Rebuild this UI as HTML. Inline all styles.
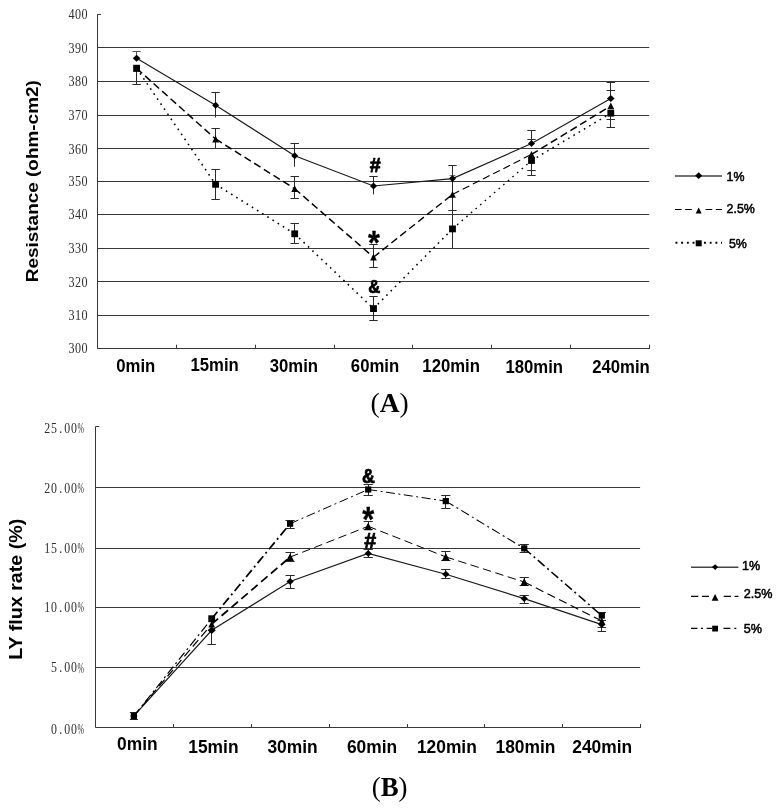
<!DOCTYPE html>
<html lang="en">
<head>
<meta charset="utf-8">
<title>Figure: Resistance and LY flux rate</title>
<style>
html,body{margin:0;padding:0;background:#fff;}
body{width:783px;height:812px;overflow:hidden;font-family:"Liberation Sans", sans-serif;}
svg{display:block;will-change:transform;}
</style>
</head>
<body>
<svg width="783" height="812" viewBox="0 0 783 812">
<rect width="783" height="812" fill="#fff"/>
<g id="chartA">
<line x1="97.6" y1="315.5" x2="649.2" y2="315.5" stroke="#383838" stroke-width="1" />
<line x1="97.6" y1="281.5" x2="649.2" y2="281.5" stroke="#383838" stroke-width="1" />
<line x1="97.6" y1="248.5" x2="649.2" y2="248.5" stroke="#383838" stroke-width="1" />
<line x1="97.6" y1="214.5" x2="649.2" y2="214.5" stroke="#383838" stroke-width="1" />
<line x1="97.6" y1="181.5" x2="649.2" y2="181.5" stroke="#383838" stroke-width="1" />
<line x1="97.6" y1="148.5" x2="649.2" y2="148.5" stroke="#383838" stroke-width="1" />
<line x1="97.6" y1="115.5" x2="649.2" y2="115.5" stroke="#383838" stroke-width="1" />
<line x1="97.6" y1="81.5" x2="649.2" y2="81.5" stroke="#383838" stroke-width="1" />
<line x1="97.6" y1="47.5" x2="649.2" y2="47.5" stroke="#383838" stroke-width="1" />
<line x1="97.5" y1="14.3" x2="97.5" y2="348.4" stroke="#383838" stroke-width="1" />
<line x1="97.1" y1="348.5" x2="650" y2="348.5" stroke="#383838" stroke-width="1" />
<line x1="97.6" y1="14.5" x2="101.1" y2="14.5" stroke="#383838" stroke-width="1" />
<line x1="176.5" y1="348.4" x2="176.5" y2="344.7" stroke="#383838" stroke-width="1" />
<line x1="255.5" y1="348.4" x2="255.5" y2="344.7" stroke="#383838" stroke-width="1" />
<line x1="334.5" y1="348.4" x2="334.5" y2="344.7" stroke="#383838" stroke-width="1" />
<line x1="412.5" y1="348.4" x2="412.5" y2="344.7" stroke="#383838" stroke-width="1" />
<line x1="491.5" y1="348.4" x2="491.5" y2="344.7" stroke="#383838" stroke-width="1" />
<line x1="570.5" y1="348.4" x2="570.5" y2="344.7" stroke="#383838" stroke-width="1" />
<line x1="649.5" y1="348.4" x2="649.5" y2="344.7" stroke="#383838" stroke-width="1" />
<text transform="scale(0.88 1)" x="81.19 88.58 95.97" y="353.5" font-family='"Liberation Serif", serif' font-size="13.8" text-anchor="middle" fill="#2e2e2e">300</text>
<text transform="scale(0.88 1)" x="81.19 88.58 95.97" y="320.5" font-family='"Liberation Serif", serif' font-size="13.8" text-anchor="middle" fill="#2e2e2e">310</text>
<text transform="scale(0.88 1)" x="81.19 88.58 95.97" y="286.9" font-family='"Liberation Serif", serif' font-size="13.8" text-anchor="middle" fill="#2e2e2e">320</text>
<text transform="scale(0.88 1)" x="81.19 88.58 95.97" y="253.3" font-family='"Liberation Serif", serif' font-size="13.8" text-anchor="middle" fill="#2e2e2e">330</text>
<text transform="scale(0.88 1)" x="81.19 88.58 95.97" y="219.4" font-family='"Liberation Serif", serif' font-size="13.8" text-anchor="middle" fill="#2e2e2e">340</text>
<text transform="scale(0.88 1)" x="81.19 88.58 95.97" y="186.4" font-family='"Liberation Serif", serif' font-size="13.8" text-anchor="middle" fill="#2e2e2e">350</text>
<text transform="scale(0.88 1)" x="81.19 88.58 95.97" y="153.8" font-family='"Liberation Serif", serif' font-size="13.8" text-anchor="middle" fill="#2e2e2e">360</text>
<text transform="scale(0.88 1)" x="81.19 88.58 95.97" y="120.2" font-family='"Liberation Serif", serif' font-size="13.8" text-anchor="middle" fill="#2e2e2e">370</text>
<text transform="scale(0.88 1)" x="81.19 88.58 95.97" y="86.5" font-family='"Liberation Serif", serif' font-size="13.8" text-anchor="middle" fill="#2e2e2e">380</text>
<text transform="scale(0.88 1)" x="81.19 88.58 95.97" y="52.7" font-family='"Liberation Serif", serif' font-size="13.8" text-anchor="middle" fill="#2e2e2e">390</text>
<text transform="scale(0.88 1)" x="81.19 88.58 95.97" y="19.4" font-family='"Liberation Serif", serif' font-size="13.8" text-anchor="middle" fill="#2e2e2e">400</text>
<text transform="translate(38.4 181.2) rotate(-90) scale(1 0.87)" font-family='"Liberation Sans", sans-serif' font-size="18.95" font-weight="bold" text-anchor="middle" fill="#000">Resistance (ohm-cm2)</text>
<line x1="136.5" y1="51.9" x2="136.5" y2="58" stroke="#555" stroke-width="1" />
<line x1="132.4" y1="51.5" x2="140.8" y2="51.5" stroke="#555" stroke-width="1" />
<line x1="136.5" y1="70" x2="136.5" y2="84.4" stroke="#2a2a2a" stroke-width="1" />
<line x1="132.4" y1="84.5" x2="140.8" y2="84.5" stroke="#2a2a2a" stroke-width="1" />
<line x1="215.5" y1="92.5" x2="215.5" y2="117.5" stroke="#2a2a2a" stroke-width="1" />
<line x1="211.4" y1="92.5" x2="219.8" y2="92.5" stroke="#2a2a2a" stroke-width="1" />
<line x1="215.5" y1="128.5" x2="215.5" y2="148.8" stroke="#2a2a2a" stroke-width="1" />
<line x1="211.4" y1="128.5" x2="219.8" y2="128.5" stroke="#2a2a2a" stroke-width="1" />
<line x1="215.5" y1="169.4" x2="215.5" y2="199.6" stroke="#2a2a2a" stroke-width="1" />
<line x1="211.4" y1="169.5" x2="219.8" y2="169.5" stroke="#2a2a2a" stroke-width="1" />
<line x1="211.4" y1="199.5" x2="219.8" y2="199.5" stroke="#2a2a2a" stroke-width="1" />
<line x1="294.5" y1="143.8" x2="294.5" y2="166.8" stroke="#2a2a2a" stroke-width="1" />
<line x1="290.5" y1="143.5" x2="298.9" y2="143.5" stroke="#2a2a2a" stroke-width="1" />
<line x1="294.5" y1="176.4" x2="294.5" y2="198.7" stroke="#2a2a2a" stroke-width="1" />
<line x1="290.5" y1="176.5" x2="298.9" y2="176.5" stroke="#2a2a2a" stroke-width="1" />
<line x1="290.5" y1="198.5" x2="298.9" y2="198.5" stroke="#2a2a2a" stroke-width="1" />
<line x1="294.5" y1="223.5" x2="294.5" y2="243.9" stroke="#2a2a2a" stroke-width="1" />
<line x1="290.5" y1="223.5" x2="298.9" y2="223.5" stroke="#2a2a2a" stroke-width="1" />
<line x1="290.5" y1="243.5" x2="298.9" y2="243.5" stroke="#2a2a2a" stroke-width="1" />
<line x1="373.5" y1="176.5" x2="373.5" y2="194.4" stroke="#2a2a2a" stroke-width="1" />
<line x1="369.3" y1="176.5" x2="377.7" y2="176.5" stroke="#2a2a2a" stroke-width="1" />
<line x1="373.5" y1="244.5" x2="373.5" y2="267.8" stroke="#2a2a2a" stroke-width="1" />
<line x1="369.3" y1="244.5" x2="377.7" y2="244.5" stroke="#2a2a2a" stroke-width="1" />
<line x1="369.3" y1="267.5" x2="377.7" y2="267.5" stroke="#2a2a2a" stroke-width="1" />
<line x1="373.5" y1="296.2" x2="373.5" y2="320.4" stroke="#2a2a2a" stroke-width="1" />
<line x1="369.3" y1="296.5" x2="377.7" y2="296.5" stroke="#2a2a2a" stroke-width="1" />
<line x1="369.3" y1="320.5" x2="377.7" y2="320.5" stroke="#2a2a2a" stroke-width="1" />
<line x1="452.5" y1="165.3" x2="452.5" y2="248" stroke="#2a2a2a" stroke-width="1" />
<line x1="448.3" y1="165.5" x2="456.7" y2="165.5" stroke="#2a2a2a" stroke-width="1" />
<line x1="448.3" y1="210.5" x2="456.7" y2="210.5" stroke="#2a2a2a" stroke-width="1" />
<line x1="449.5" y1="175.5" x2="455.5" y2="175.5" stroke="#777" stroke-width="1" />
<line x1="531.5" y1="130" x2="531.5" y2="142" stroke="#2a2a2a" stroke-width="1" />
<line x1="527.3" y1="130.5" x2="535.7" y2="130.5" stroke="#2a2a2a" stroke-width="1" />
<line x1="527.3" y1="139.5" x2="535.7" y2="139.5" stroke="#2a2a2a" stroke-width="1" />
<line x1="531.5" y1="163" x2="531.5" y2="175.6" stroke="#2a2a2a" stroke-width="1" />
<line x1="527.3" y1="170.5" x2="535.7" y2="170.5" stroke="#2a2a2a" stroke-width="1" />
<line x1="527.3" y1="175.5" x2="535.7" y2="175.5" stroke="#2a2a2a" stroke-width="1" />
<line x1="610.5" y1="82" x2="610.5" y2="96" stroke="#2a2a2a" stroke-width="1" />
<line x1="606.6" y1="82.5" x2="615" y2="82.5" stroke="#2a2a2a" stroke-width="1" />
<line x1="606.6" y1="90.5" x2="615" y2="90.5" stroke="#2a2a2a" stroke-width="1" />
<line x1="610.5" y1="116" x2="610.5" y2="127.4" stroke="#2a2a2a" stroke-width="1" />
<line x1="606.6" y1="119.5" x2="615" y2="119.5" stroke="#2a2a2a" stroke-width="1" />
<line x1="606.6" y1="127.5" x2="615" y2="127.5" stroke="#2a2a2a" stroke-width="1" />
<polyline points="136.6,58.3 215.6,105.2 294.7,155.7 373.5,186 452.5,178.6 531.5,143.5 610.8,98.4" fill="none" stroke="#1a1a1a" stroke-width="1.15" />
<line x1="136.6" y1="68.3" x2="215.6" y2="139" stroke="#000" stroke-width="1.5" stroke-dasharray="7.4 4"/>
<line x1="215.6" y1="139" x2="294.7" y2="188.7" stroke="#000" stroke-width="1.5" stroke-dasharray="7.4 4"/>
<line x1="294.7" y1="188.7" x2="373.5" y2="257.2" stroke="#000" stroke-width="1.5" stroke-dasharray="7.4 4"/>
<line x1="373.5" y1="257.2" x2="452.5" y2="194.4" stroke="#000" stroke-width="1.4" stroke-dasharray="7.4 4"/>
<line x1="452.5" y1="194.4" x2="531.5" y2="154.4" stroke="#000" stroke-width="1.1" stroke-dasharray="7.4 4"/>
<line x1="531.5" y1="154.4" x2="610.8" y2="105.9" stroke="#000" stroke-width="1.5" stroke-dasharray="7.4 4"/>
<line x1="136.6" y1="68.2" x2="215.6" y2="184.3" stroke="#000" stroke-width="1.6" stroke-dasharray="1.6 4.5"/>
<line x1="215.6" y1="184.3" x2="294.7" y2="233.8" stroke="#000" stroke-width="1.6" stroke-dasharray="1.6 4.5"/>
<line x1="294.7" y1="233.8" x2="373.5" y2="308.6" stroke="#000" stroke-width="1.6" stroke-dasharray="1.6 4.5"/>
<line x1="373.5" y1="308.6" x2="452.5" y2="228.9" stroke="#000" stroke-width="1.6" stroke-dasharray="1.6 4.5"/>
<line x1="452.5" y1="228.9" x2="531.5" y2="160.5" stroke="#000" stroke-width="1.35" stroke-dasharray="1.6 4.5"/>
<line x1="531.5" y1="160.5" x2="610.8" y2="113.2" stroke="#000" stroke-width="1.5" stroke-dasharray="1.6 4.5"/>
<path d="M136.6 54.8L140.45 58.3L136.6 61.8L132.75 58.3Z" fill="#000"/>
<path d="M215.6 101.7L219.1 105.2L215.6 108.7L212.1 105.2Z" fill="#000"/>
<path d="M294.7 152.2L298.2 155.7L294.7 159.2L291.2 155.7Z" fill="#000"/>
<path d="M373.5 182.5L377 186L373.5 189.5L370 186Z" fill="#000"/>
<path d="M452.5 175.1L456 178.6L452.5 182.1L449 178.6Z" fill="#000"/>
<path d="M531.5 140L535 143.5L531.5 147L528 143.5Z" fill="#000"/>
<path d="M610.8 94.9L614.65 98.4L610.8 101.9L606.95 98.4Z" fill="#000"/>
<path d="M136.6 64.9L140 71.7L133.2 71.7Z" fill="#000"/>
<path d="M215.6 135.6L219 142.4L212.2 142.4Z" fill="#000"/>
<path d="M294.7 185.3L298.1 192.1L291.3 192.1Z" fill="#000"/>
<path d="M373.5 253.8L376.9 260.6L370.1 260.6Z" fill="#000"/>
<path d="M452.5 191L455.9 197.8L449.1 197.8Z" fill="#000"/>
<path d="M531.5 151L534.9 157.8L528.1 157.8Z" fill="#000"/>
<path d="M610.8 102.5L614.2 109.3L607.4 109.3Z" fill="#000"/>
<rect class="m" x="133.2" y="64.8" width="6.8" height="6.8" fill="#000"/>
<rect class="m" x="212.2" y="180.9" width="6.8" height="6.8" fill="#000"/>
<rect class="m" x="291.3" y="230.4" width="6.8" height="6.8" fill="#000"/>
<rect class="m" x="370.1" y="305.2" width="6.8" height="6.8" fill="#000"/>
<rect class="m" x="449.1" y="225.5" width="6.8" height="6.8" fill="#000"/>
<rect class="m" x="528.1" y="157.1" width="6.8" height="6.8" fill="#000"/>
<rect class="m" x="607.4" y="109.8" width="6.8" height="6.8" fill="#000"/>
<text x="375.2" y="172.4" font-family='"Liberation Sans", sans-serif' font-size="19.8" font-weight="bold" text-anchor="middle" fill="#000" stroke="#000" stroke-width="0.75" stroke-linejoin="round">#</text>
<text transform="translate(374 254.1) scale(0.9 1)" font-family='"Liberation Sans", sans-serif' font-size="34" font-weight="bold" text-anchor="middle" fill="#000" stroke="#000" stroke-width="0.3" stroke-linejoin="round">*</text>
<text transform="translate(374.3 293.1) scale(0.9 1)" font-family='"Liberation Sans", sans-serif' font-size="18.5" font-weight="bold" text-anchor="middle" fill="#000" stroke="#000" stroke-width="0.75" stroke-linejoin="round">&amp;</text>
<text transform="translate(135.75 372.4) scale(0.885 1)" font-family='"Liberation Sans", sans-serif' font-size="18.9" font-weight="bold" text-anchor="middle" fill="#000" >0min</text>
<text transform="translate(214.65 370.7) scale(0.885 1)" font-family='"Liberation Sans", sans-serif' font-size="18.9" font-weight="bold" text-anchor="middle" fill="#000" >15min</text>
<text transform="translate(293.85 372) scale(0.885 1)" font-family='"Liberation Sans", sans-serif' font-size="18.9" font-weight="bold" text-anchor="middle" fill="#000" >30min</text>
<text transform="translate(375 372) scale(0.885 1)" font-family='"Liberation Sans", sans-serif' font-size="18.9" font-weight="bold" text-anchor="middle" fill="#000" >60min</text>
<text transform="translate(451.15 371.6) scale(0.885 1)" font-family='"Liberation Sans", sans-serif' font-size="18.9" font-weight="bold" text-anchor="middle" fill="#000" >120min</text>
<text transform="translate(534.2 373.3) scale(0.885 1)" font-family='"Liberation Sans", sans-serif' font-size="18.9" font-weight="bold" text-anchor="middle" fill="#000" >180min</text>
<text transform="translate(620.95 373.3) scale(0.885 1)" font-family='"Liberation Sans", sans-serif' font-size="18.9" font-weight="bold" text-anchor="middle" fill="#000" >240min</text>
<line x1="675" y1="175.9" x2="722" y2="175.9" stroke="#444" stroke-width="1.5" />
<path d="M698.7 172.3L702.37 175.7L698.7 179.1L695.03 175.7Z" fill="#000"/>
<text x="726.6" y="180.7" font-family='"Liberation Sans", sans-serif' font-size="12.4" font-weight="normal" text-anchor="start" fill="#000" stroke="#000" stroke-width="0.5">1%</text>
<line x1="675" y1="209.5" x2="722" y2="209.5" stroke="#000" stroke-width="1.2" stroke-dasharray="6.6 3.6"/>
<rect class="m" x="692.5" y="205" width="12.5" height="9" fill="#fff"/>
<path d="M698.7 207.6L701.7 213.6L695.7 213.6Z" fill="#000"/>
<text x="726.6" y="212.8" font-family='"Liberation Sans", sans-serif' font-size="12.4" font-weight="normal" text-anchor="start" fill="#000" stroke="#000" stroke-width="0.5">2.5%</text>
<line x1="675.5" y1="242.8" x2="722" y2="242.8" stroke="#000" stroke-width="1.9" stroke-dasharray="1.9 3.8"/>
<rect class="m" x="695.7" y="240.3" width="6" height="6" fill="#000"/>
<text x="728.9" y="247.6" font-family='"Liberation Sans", sans-serif' font-size="12.4" font-weight="normal" text-anchor="start" fill="#000" stroke="#000" stroke-width="0.5">5%</text>
</g>
<text x="389.6" y="411.6" font-family='"Liberation Serif", serif' font-size="27.5" text-anchor="middle" fill="#000">(<tspan font-weight="bold">A</tspan>)</text>
<g id="chartB">
<line x1="95.9" y1="667.5" x2="640.1" y2="667.5" stroke="#383838" stroke-width="1" />
<line x1="95.9" y1="607.5" x2="640.1" y2="607.5" stroke="#383838" stroke-width="1" />
<line x1="95.9" y1="548.5" x2="640.1" y2="548.5" stroke="#383838" stroke-width="1" />
<line x1="95.9" y1="487.5" x2="640.1" y2="487.5" stroke="#383838" stroke-width="1" />
<line x1="95.5" y1="426.3" x2="95.5" y2="727.4" stroke="#383838" stroke-width="1" />
<line x1="95.4" y1="727.5" x2="641" y2="727.5" stroke="#383838" stroke-width="1" />
<line x1="95.9" y1="426.5" x2="99.2" y2="426.5" stroke="#383838" stroke-width="1" />
<line x1="173.5" y1="727.4" x2="173.5" y2="724.1" stroke="#383838" stroke-width="1" />
<line x1="251.5" y1="727.4" x2="251.5" y2="724.1" stroke="#383838" stroke-width="1" />
<line x1="329.5" y1="727.4" x2="329.5" y2="724.1" stroke="#383838" stroke-width="1" />
<line x1="407.5" y1="727.4" x2="407.5" y2="724.1" stroke="#383838" stroke-width="1" />
<line x1="484.5" y1="727.4" x2="484.5" y2="724.1" stroke="#383838" stroke-width="1" />
<line x1="562.5" y1="727.4" x2="562.5" y2="724.1" stroke="#383838" stroke-width="1" />
<line x1="640.5" y1="727.4" x2="640.5" y2="724.1" stroke="#383838" stroke-width="1" />
<text transform="scale(0.86 1)" x="54.95 62.72 70.49 78.26 86.02" y="432.6" font-family='"Liberation Serif", serif' font-size="13.8" text-anchor="middle" fill="#2e2e2e">25.00</text>
<text transform="translate(80.66 432.6) scale(0.56 1)" font-family='"Liberation Serif", serif' font-size="13.8" text-anchor="middle" fill="#2e2e2e">%</text>
<text transform="scale(0.86 1)" x="54.95 62.72 70.49 78.26 86.02" y="492.6" font-family='"Liberation Serif", serif' font-size="13.8" text-anchor="middle" fill="#2e2e2e">20.00</text>
<text transform="translate(80.66 492.6) scale(0.56 1)" font-family='"Liberation Serif", serif' font-size="13.8" text-anchor="middle" fill="#2e2e2e">%</text>
<text transform="scale(0.86 1)" x="54.95 62.72 70.49 78.26 86.02" y="553" font-family='"Liberation Serif", serif' font-size="13.8" text-anchor="middle" fill="#2e2e2e">15.00</text>
<text transform="translate(80.66 553) scale(0.56 1)" font-family='"Liberation Serif", serif' font-size="13.8" text-anchor="middle" fill="#2e2e2e">%</text>
<text transform="scale(0.86 1)" x="54.95 62.72 70.49 78.26 86.02" y="612.4" font-family='"Liberation Serif", serif' font-size="13.8" text-anchor="middle" fill="#2e2e2e">10.00</text>
<text transform="translate(80.66 612.4) scale(0.56 1)" font-family='"Liberation Serif", serif' font-size="13.8" text-anchor="middle" fill="#2e2e2e">%</text>
<text transform="scale(0.86 1)" x="62.72 70.49 78.26 86.02" y="672.5" font-family='"Liberation Serif", serif' font-size="13.8" text-anchor="middle" fill="#2e2e2e">5.00</text>
<text transform="translate(80.66 672.5) scale(0.56 1)" font-family='"Liberation Serif", serif' font-size="13.8" text-anchor="middle" fill="#2e2e2e">%</text>
<text transform="scale(0.86 1)" x="62.72 70.49 78.26 86.02" y="734" font-family='"Liberation Serif", serif' font-size="13.8" text-anchor="middle" fill="#2e2e2e">0.00</text>
<text transform="translate(80.66 734) scale(0.56 1)" font-family='"Liberation Serif", serif' font-size="13.8" text-anchor="middle" fill="#2e2e2e">%</text>
<text transform="translate(22.4 589.2) rotate(-90) scale(1 0.9)" font-family='"Liberation Sans", sans-serif' font-size="19.7" font-weight="bold" text-anchor="middle" fill="#000">LY flux rate (%)</text>
<line x1="133.5" y1="712.8" x2="133.5" y2="719.3" stroke="#2a2a2a" stroke-width="1" />
<line x1="129.9" y1="712.5" x2="137.9" y2="712.5" stroke="#2a2a2a" stroke-width="1" />
<line x1="129.9" y1="719.5" x2="137.9" y2="719.5" stroke="#2a2a2a" stroke-width="1" />
<line x1="211.5" y1="616" x2="211.5" y2="644.4" stroke="#2a2a2a" stroke-width="1" />
<line x1="207.5" y1="644.5" x2="215.9" y2="644.5" stroke="#2a2a2a" stroke-width="1" />
<line x1="290.5" y1="520.3" x2="290.5" y2="528.3" stroke="#2a2a2a" stroke-width="1" />
<line x1="285.5" y1="520.5" x2="294.7" y2="520.5" stroke="#2a2a2a" stroke-width="1" />
<line x1="285.5" y1="528.5" x2="294.7" y2="528.5" stroke="#2a2a2a" stroke-width="1" />
<line x1="290.5" y1="552" x2="290.5" y2="561.2" stroke="#2a2a2a" stroke-width="1" />
<line x1="285.5" y1="552.5" x2="294.7" y2="552.5" stroke="#2a2a2a" stroke-width="1" />
<line x1="285.5" y1="561.5" x2="294.7" y2="561.5" stroke="#2a2a2a" stroke-width="1" />
<line x1="290.5" y1="575.5" x2="290.5" y2="588.4" stroke="#2a2a2a" stroke-width="1" />
<line x1="285.5" y1="575.5" x2="294.7" y2="575.5" stroke="#2a2a2a" stroke-width="1" />
<line x1="285.5" y1="588.5" x2="294.7" y2="588.5" stroke="#2a2a2a" stroke-width="1" />
<line x1="368.5" y1="484.9" x2="368.5" y2="495.2" stroke="#2a2a2a" stroke-width="1" />
<line x1="363.6" y1="484.5" x2="372.8" y2="484.5" stroke="#2a2a2a" stroke-width="1" />
<line x1="363.6" y1="495.5" x2="372.8" y2="495.5" stroke="#2a2a2a" stroke-width="1" />
<line x1="368.5" y1="521.3" x2="368.5" y2="529.7" stroke="#2a2a2a" stroke-width="1" />
<line x1="363.6" y1="521.5" x2="372.8" y2="521.5" stroke="#2a2a2a" stroke-width="1" />
<line x1="363.6" y1="529.5" x2="372.8" y2="529.5" stroke="#2a2a2a" stroke-width="1" />
<line x1="368.5" y1="549.6" x2="368.5" y2="557.3" stroke="#2a2a2a" stroke-width="1" />
<line x1="363.6" y1="549.5" x2="372.8" y2="549.5" stroke="#2a2a2a" stroke-width="1" />
<line x1="363.6" y1="557.5" x2="372.8" y2="557.5" stroke="#2a2a2a" stroke-width="1" />
<line x1="445.5" y1="495.6" x2="445.5" y2="508.3" stroke="#2a2a2a" stroke-width="1" />
<line x1="441.2" y1="495.5" x2="450.4" y2="495.5" stroke="#2a2a2a" stroke-width="1" />
<line x1="441.2" y1="508.5" x2="450.4" y2="508.5" stroke="#2a2a2a" stroke-width="1" />
<line x1="445.5" y1="551.5" x2="445.5" y2="560.8" stroke="#2a2a2a" stroke-width="1" />
<line x1="441.2" y1="551.5" x2="450.4" y2="551.5" stroke="#2a2a2a" stroke-width="1" />
<line x1="441.2" y1="560.5" x2="450.4" y2="560.5" stroke="#2a2a2a" stroke-width="1" />
<line x1="445.5" y1="569.6" x2="445.5" y2="578.8" stroke="#2a2a2a" stroke-width="1" />
<line x1="441.2" y1="569.5" x2="450.4" y2="569.5" stroke="#2a2a2a" stroke-width="1" />
<line x1="441.2" y1="578.5" x2="450.4" y2="578.5" stroke="#2a2a2a" stroke-width="1" />
<line x1="524.5" y1="544.5" x2="524.5" y2="552.6" stroke="#2a2a2a" stroke-width="1" />
<line x1="519.6" y1="544.5" x2="528.8" y2="544.5" stroke="#2a2a2a" stroke-width="1" />
<line x1="519.6" y1="552.5" x2="528.8" y2="552.5" stroke="#2a2a2a" stroke-width="1" />
<line x1="524.5" y1="577.5" x2="524.5" y2="585.1" stroke="#2a2a2a" stroke-width="1" />
<line x1="519.6" y1="577.5" x2="528.8" y2="577.5" stroke="#2a2a2a" stroke-width="1" />
<line x1="519.6" y1="585.5" x2="528.8" y2="585.5" stroke="#2a2a2a" stroke-width="1" />
<line x1="524.5" y1="595.4" x2="524.5" y2="603.2" stroke="#2a2a2a" stroke-width="1" />
<line x1="519.6" y1="595.5" x2="528.8" y2="595.5" stroke="#2a2a2a" stroke-width="1" />
<line x1="519.6" y1="603.5" x2="528.8" y2="603.5" stroke="#2a2a2a" stroke-width="1" />
<line x1="601.5" y1="612.3" x2="601.5" y2="631.6" stroke="#2a2a2a" stroke-width="1" />
<line x1="597.6" y1="612.5" x2="606" y2="612.5" stroke="#2a2a2a" stroke-width="1" />
<line x1="597.6" y1="620.5" x2="606" y2="620.5" stroke="#2a2a2a" stroke-width="1" />
<line x1="597.6" y1="627.5" x2="606" y2="627.5" stroke="#2a2a2a" stroke-width="1" />
<line x1="597.6" y1="631.5" x2="606" y2="631.5" stroke="#2a2a2a" stroke-width="1" />
<polyline points="133.9,715.9 211.7,630.3 290.1,581.5 368.2,553.4 445.8,574.2 524.2,598.6 601.8,624.6" fill="none" stroke="#1a1a1a" stroke-width="1.15" />
<line x1="133.9" y1="715.9" x2="211.7" y2="624.2" stroke="#000" stroke-width="1.2" stroke-dasharray="8.5 4.5"/>
<line x1="211.7" y1="624.2" x2="290.1" y2="557.1" stroke="#000" stroke-width="1.75" stroke-dasharray="8.5 4.5"/>
<line x1="290.1" y1="557.1" x2="368.2" y2="526.3" stroke="#000" stroke-width="1.0" stroke-dasharray="8.5 4.5"/>
<line x1="368.2" y1="526.3" x2="445.8" y2="556.9" stroke="#000" stroke-width="1.0" stroke-dasharray="8.5 4.5"/>
<line x1="445.8" y1="556.9" x2="524.2" y2="582" stroke="#000" stroke-width="1.0" stroke-dasharray="8.5 4.5"/>
<line x1="524.2" y1="582" x2="601.8" y2="621" stroke="#000" stroke-width="1.15" stroke-dasharray="8.5 4.5"/>
<line x1="133.9" y1="715.9" x2="211.7" y2="618.7" stroke="#000" stroke-width="1.2" stroke-dasharray="9 3.5 2 3.5"/>
<line x1="211.7" y1="618.7" x2="290.1" y2="523.7" stroke="#000" stroke-width="1.75" stroke-dasharray="9 3.5 2 3.5"/>
<line x1="290.1" y1="523.7" x2="368.2" y2="489.5" stroke="#000" stroke-width="1.0" stroke-dasharray="9 3.5 2 3.5"/>
<line x1="368.2" y1="489.5" x2="445.8" y2="501.1" stroke="#000" stroke-width="1.0" stroke-dasharray="9 3.5 2 3.5"/>
<line x1="445.8" y1="501.1" x2="524.2" y2="548.4" stroke="#000" stroke-width="1.1" stroke-dasharray="9 3.5 2 3.5"/>
<line x1="524.2" y1="548.4" x2="601.8" y2="615.6" stroke="#000" stroke-width="1.5" stroke-dasharray="9 3.5 2 3.5"/>
<path d="M133.9 712.5L137.57 715.9L133.9 719.3L130.23 715.9Z" fill="#000"/>
<path d="M211.7 626.5L215.8 630.3L211.7 634.1L207.6 630.3Z" fill="#000"/>
<path d="M290.1 578.1L293.77 581.5L290.1 584.9L286.43 581.5Z" fill="#000"/>
<path d="M368.2 550L371.87 553.4L368.2 556.8L364.53 553.4Z" fill="#000"/>
<path d="M445.8 570.8L449.47 574.2L445.8 577.6L442.13 574.2Z" fill="#000"/>
<path d="M524.2 595.2L527.87 598.6L524.2 602L520.53 598.6Z" fill="#000"/>
<path d="M601.8 621.2L605.47 624.6L601.8 628L598.13 624.6Z" fill="#000"/>
<path d="M133.9 712.5L137.3 719.3L130.5 719.3Z" fill="#000"/>
<path d="M211.7 620.8L215.1 627.6L208.3 627.6Z" fill="#000"/>
<path d="M290.1 553.2L294 561L286.2 561Z" fill="#000"/>
<path d="M368.2 522.4L372.1 530.2L364.3 530.2Z" fill="#000"/>
<path d="M445.8 553L449.7 560.8L441.9 560.8Z" fill="#000"/>
<path d="M524.2 578.1L528.1 585.9L520.3 585.9Z" fill="#000"/>
<path d="M601.8 617.6L605.2 624.4L598.4 624.4Z" fill="#000"/>
<rect class="m" x="130.8" y="712.8" width="6.2" height="6.2" fill="#000"/>
<rect class="m" x="208.3" y="615.3" width="6.8" height="6.8" fill="#000"/>
<rect class="m" x="287" y="520.6" width="6.2" height="6.2" fill="#000"/>
<rect class="m" x="365.1" y="486.4" width="6.2" height="6.2" fill="#000"/>
<rect class="m" x="442.7" y="498" width="6.2" height="6.2" fill="#000"/>
<rect class="m" x="521.1" y="545.3" width="6.2" height="6.2" fill="#000"/>
<rect class="m" x="598.7" y="612.5" width="6.2" height="6.2" fill="#000"/>
<text transform="translate(368.4 482.7) scale(0.9 1)" font-family='"Liberation Sans", sans-serif' font-size="19.8" font-weight="bold" text-anchor="middle" fill="#000" stroke="#000" stroke-width="0.75" stroke-linejoin="round">&amp;</text>
<text transform="translate(368.3 530.7) scale(0.88 1)" font-family='"Liberation Sans", sans-serif' font-size="35" font-weight="bold" text-anchor="middle" fill="#000" stroke="#000" stroke-width="0.3" stroke-linejoin="round">*</text>
<text x="370.2" y="547.9" font-family='"Liberation Sans", sans-serif' font-size="21.5" font-weight="bold" text-anchor="middle" fill="#000" stroke="#000" stroke-width="0.75" stroke-linejoin="round">#</text>
<text transform="translate(137.35 750.3) scale(0.915 1)" font-family='"Liberation Sans", sans-serif' font-size="19.0" font-weight="bold" text-anchor="middle" fill="#000" >0min</text>
<text transform="translate(213.4 753) scale(0.915 1)" font-family='"Liberation Sans", sans-serif' font-size="19.0" font-weight="bold" text-anchor="middle" fill="#000" >15min</text>
<text transform="translate(292.5 753) scale(0.915 1)" font-family='"Liberation Sans", sans-serif' font-size="19.0" font-weight="bold" text-anchor="middle" fill="#000" >30min</text>
<text transform="translate(372 753) scale(0.915 1)" font-family='"Liberation Sans", sans-serif' font-size="19.0" font-weight="bold" text-anchor="middle" fill="#000" >60min</text>
<text transform="translate(446.85 752.6) scale(0.915 1)" font-family='"Liberation Sans", sans-serif' font-size="19.0" font-weight="bold" text-anchor="middle" fill="#000" >120min</text>
<text transform="translate(525.4 752.6) scale(0.915 1)" font-family='"Liberation Sans", sans-serif' font-size="19.0" font-weight="bold" text-anchor="middle" fill="#000" >180min</text>
<text transform="translate(602.2 752.6) scale(0.915 1)" font-family='"Liberation Sans", sans-serif' font-size="19.0" font-weight="bold" text-anchor="middle" fill="#000" >240min</text>
<line x1="691" y1="567.3" x2="738.4" y2="567.3" stroke="#444" stroke-width="1.5" />
<path d="M715.1 564.2L718.23 567.1L715.1 570L711.97 567.1Z" fill="#000"/>
<text x="741.9" y="570.4" font-family='"Liberation Sans", sans-serif' font-size="12.6" font-weight="normal" text-anchor="start" fill="#000" stroke="#000" stroke-width="0.5">1%</text>
<line x1="691" y1="596.4" x2="738.4" y2="596.4" stroke="#000" stroke-width="1.1" stroke-dasharray="7.3 3.6"/>
<rect class="m" x="709" y="592" width="12.5" height="9" fill="#fff"/>
<path d="M715.1 594L718.5 600.8L711.7 600.8Z" fill="#000"/>
<text x="743.8" y="598.2" font-family='"Liberation Sans", sans-serif' font-size="12.6" font-weight="normal" text-anchor="start" fill="#000" stroke="#000" stroke-width="0.5">2.5%</text>
<line x1="691" y1="628.4" x2="712" y2="628.4" stroke="#000" stroke-width="1.1" stroke-dasharray="6.4 3.6 2 3.6"/>
<line x1="723.5" y1="628.4" x2="738.4" y2="628.4" stroke="#000" stroke-width="1.1" stroke-dasharray="6.9 3.9 2 3.9"/>
<rect class="m" x="712.2" y="625.7" width="5.8" height="5.8" fill="#000"/>
<text x="743.8" y="632.7" font-family='"Liberation Sans", sans-serif' font-size="12.6" font-weight="normal" text-anchor="start" fill="#000" stroke="#000" stroke-width="0.5">5%</text>
</g>
<text x="389.6" y="795.6" font-family='"Liberation Serif", serif' font-size="26.8" text-anchor="middle" fill="#000">(<tspan font-weight="bold">B</tspan>)</text>
</svg>
</body>
</html>
